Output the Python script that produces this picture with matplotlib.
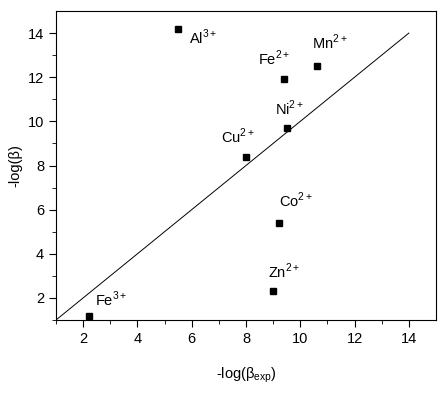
import matplotlib.pyplot as plt
import numpy as np

plt.rcParams['font.family'] = ['Liberation Sans', 'DejaVu Sans']
plt.rcParams['mathtext.fontset'] = 'custom'
plt.rcParams['mathtext.rm'] = 'Liberation Sans'

# data
ions = ["Al$^{3+}$", "Fe$^{2+}$", "Mn$^{2+}$", "Ni$^{2+}$", "Cu$^{2+}$", "Co$^{2+}$", "Zn$^{2+}$", "Fe$^{3+}$"]
log_beta_exp = [5.5, 9.4, 10.6, 9.5, 8.0, 9.2, 9.0, 2.2]
log_beta = [14.2, 11.9, 12.5, 9.7, 8.4, 5.4, 2.3, 1.2]
label_x = [5.9, 8.45, 10.45, 9.08, 7.09, 9.23, 8.82, 2.44]
label_y = [13.82, 12.87, 13.6, 10.6, 9.3, 6.4, 3.19, 1.93]
line_x = [1, 14]
line_y = [1, 14]

fig = plt.figure(figsize=(4.42, 3.94), dpi=100)
ax = fig.add_axes([56/442, 1 - 320/394, 380/442, 309/394])

ax.plot(line_x, line_y, color='black', linewidth=0.7)
ax.plot(log_beta_exp, log_beta, 's', color='black', markersize=4.3)
for name, tx, ty in zip(ions, label_x, label_y):
    ax.text(tx, ty, name, fontsize=10.5, va='center', ha='left')

ax.set_xlim(1, 15)
ax.set_ylim(1, 15)
ax.set_xticks(np.arange(2, 15, 2))
ax.set_yticks(np.arange(2, 15, 2))
ax.set_xticks(np.arange(1, 15, 1), minor=True)
ax.set_yticks(np.arange(1, 15, 1), minor=True)
ax.tick_params(direction='out', which='major', length=5, labelsize=10.5)
ax.tick_params(direction='out', which='minor', length=3)
ax.set_xlabel('-log(β$_{\\mathregular{exp}}$)', fontsize=10.5, labelpad=14)
ax.set_ylabel('-log(β)', fontsize=10.5, labelpad=4)

plt.savefig("out.png", dpi=100)
